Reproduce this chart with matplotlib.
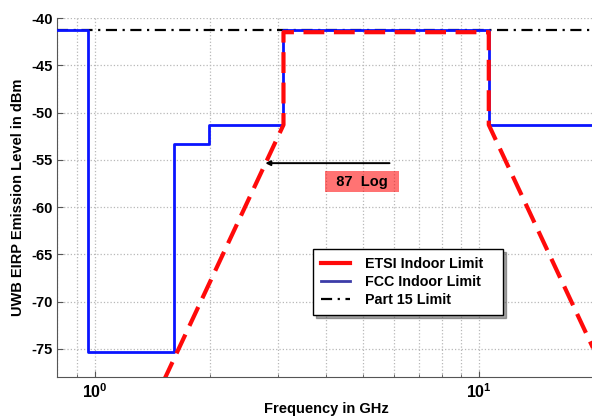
import matplotlib
matplotlib.use("Agg")
import matplotlib.pyplot as plt
from matplotlib.lines import Line2D
from matplotlib.ticker import LogLocator, NullFormatter, FixedLocator

plt.rcParams['font.family'] = ['Liberation Sans', 'DejaVu Sans']
plt.rcParams['font.weight'] = 'bold'
plt.rcParams['axes.unicode_minus'] = False
plt.rcParams['mathtext.fontset'] = 'custom'
plt.rcParams['mathtext.rm'] = 'Liberation Sans:bold'
plt.rcParams['mathtext.it'] = 'Liberation Sans:bold'
plt.rcParams['mathtext.bf'] = 'Liberation Sans:bold'

# FCC indoor mask (step edges in GHz, level in dBm)
fcc_edges = [0.8, 0.96, 1.61, 1.99, 3.1, 10.6, 20.0]
fcc_level = [-41.3, -75.3, -53.3, -51.3, -41.3, -51.3, -51.3]

# ETSI indoor mask
etsi_freq = [1.4, 3.1, 3.1, 10.6, 10.6, 22.0]
etsi_level = [-81.3, -51.3, -41.5, -41.5, -51.3, -78.9]

# Part 15 limit
p15_freq = [0.8, 20.0]
p15_level = [-41.3, -41.3]

y_ticks = [-75, -70, -65, -60, -55, -50, -45, -40]
x_ticks = [1, 10]
x_ticklabels = [r'$10^{0}$', r'$10^{1}$']

fig = plt.figure(figsize=(5.92, 4.17), dpi=100)
ax = fig.add_axes([0.0968, 0.0952, 0.9079, 0.8616])

ax.plot(p15_freq, p15_level, color='black', lw=1.6, dashes=[5, 2.5, 1, 2.5],
        zorder=3)
ax.plot(fcc_edges, fcc_level, color='#0a14ff', lw=2.0, drawstyle='steps-post',
        zorder=4)
ax.plot(etsi_freq, etsi_level, color='#ff0a0a', lw=3.0, dashes=[5, 2.3],
        zorder=5)

ax.annotate('', xy=(2.78, -55.35), xytext=(5.85, -55.35),
            arrowprops=dict(arrowstyle='-|>', color='black', lw=1.4,
                            mutation_scale=7, shrinkA=0, shrinkB=0), zorder=6)
ax.text(4.96, -57.3, '  87  Log  ', ha='center', va='center', fontsize=10.5,
        fontweight='bold', zorder=6,
        bbox=dict(boxstyle='square,pad=0.22', facecolor=(1, 0, 0, 0.55),
                  edgecolor='none'))

ax.set_xscale('log')
ax.set_xlim(0.8, 20)
ax.set_ylim(-78, -40)
ax.xaxis.set_major_locator(FixedLocator(x_ticks))
ax.set_xticklabels(x_ticklabels, fontsize=11.5)
ax.xaxis.set_minor_locator(LogLocator(base=10, subs=range(2, 10)))
ax.xaxis.set_minor_formatter(NullFormatter())
ax.set_yticks(y_ticks)

ax.grid(True, which='major', color='#b8b8b8', linestyle=':', lw=0.9)
ax.grid(True, which='minor', axis='x', color='#b8b8b8', linestyle=':', lw=0.9)
ax.set_axisbelow(True)

for s in ['top', 'right']:
    ax.spines[s].set_visible(False)
for s in ['left', 'bottom']:
    ax.spines[s].set_color('#555555')
ax.tick_params(which='both', direction='in', colors='#555555', labelcolor='black')
ax.tick_params(axis='y', labelsize=10.5)
ax.tick_params(which='major', length=4)
ax.tick_params(which='minor', length=2.5)

ax.set_xlabel('Frequency in GHz', fontsize=10.5, fontweight='bold', labelpad=1)
ax.set_ylabel('UWB EIRP Emission Level in dBm', fontsize=10.5, fontweight='bold',
              labelpad=4)

handles = [Line2D([], [], color='#ff0a0a', lw=3.0),
           Line2D([], [], color='#3c3ca8', lw=2.0),
           Line2D([], [], color='black', lw=1.6, dashes=[5, 2.5, 1, 2.5])]
labels = ['ETSI Indoor Limit   ', 'FCC Indoor Limit', 'Part 15 Limit']
leg = ax.legend(handles, labels, loc='upper left', bbox_to_anchor=(0.476, 0.356),
                fontsize=10.3, frameon=True, fancybox=False, shadow=True,
                borderpad=0.55, handlelength=2.0, labelspacing=0.28,
                handletextpad=1.1, borderaxespad=0)
leg.get_frame().set_edgecolor('black')
leg.get_frame().set_linewidth(1.0)
for t in leg.get_texts():
    t.set_fontweight('bold')

fig.savefig('out.png', dpi=100)
